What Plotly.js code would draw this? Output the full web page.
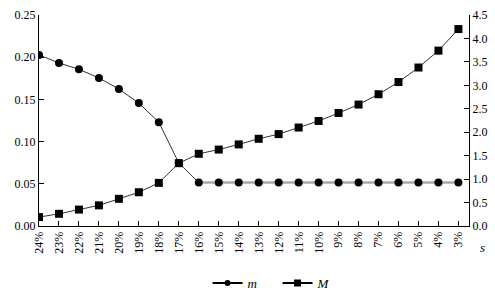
<!DOCTYPE html>
<html>
<head>
<meta charset="utf-8">
<script src="https://cdn.plot.ly/plotly-3.0.1.min.js"></script>
<style>html,body{margin:0;padding:0;background:#fff;}#chart{width:495px;height:294px;}</style>
</head>
<body>
<div id="chart"></div>
<script>
var categories = ["24%","23%","22%","21%","20%","19%","18%","17%","16%","15%","14%","13%","12%","11%","10%","9%","8%","7%","6%","5%","4%","3%"];
var mValues = [0.2027,0.1932,0.1857,0.1754,0.1623,0.1456,0.1230,0.0746,0.0515,0.0515,0.0515,0.0515,0.0516,0.0516,0.0515,0.0515,0.0515,0.0515,0.0515,0.0515,0.0515,0.0515];
var MValues = [0.19,0.26,0.35,0.44,0.58,0.72,0.92,1.34,1.54,1.63,1.74,1.86,1.96,2.10,2.24,2.41,2.59,2.81,3.07,3.38,3.74,4.20];
var leftTicks = [0,0.05,0.10,0.15,0.20,0.25];
var leftTickText = ["0.00","0.05","0.10","0.15","0.20","0.25"];
var rightTicks = [0,0.5,1,1.5,2,2.5,3,3.5,4,4.5];
var rightTickText = ["0.0","0.5","1.0","1.5","2.0","2.5","3.0","3.5","4.0","4.5"];

var flatStart = 8;
var font = {family: "'Liberation Serif', 'Times New Roman', serif", size: 12, color: "#000"};

var traces = [
  {x: categories.slice(0, flatStart + 1), y: mValues.slice(0, flatStart + 1), mode: "lines", line: {color: "#333", width: 1}, showlegend: false, hoverinfo: "skip"},
  {x: categories.slice(flatStart), y: mValues.slice(flatStart), mode: "lines", line: {color: "#a8a8a8", width: 2.5}, showlegend: false, hoverinfo: "skip"},
  {x: categories, y: mValues, mode: "markers", name: "<i>m</i>", marker: {symbol: "circle", size: 8, color: "#000"}, showlegend: false},
  {x: categories, y: MValues, yaxis: "y2", mode: "lines+markers", name: "<i>M</i>", line: {color: "#333", width: 1}, marker: {symbol: "square", size: 8, color: "#000"}, showlegend: false},
  {x: [null], y: [null], mode: "lines+markers", name: "<i>m</i>", line: {color: "#000", width: 2}, marker: {symbol: "circle", size: 6, color: "#000"}},
  {x: [null], y: [null], yaxis: "y2", mode: "lines+markers", name: "<i>M</i>", line: {color: "#000", width: 2}, marker: {symbol: "square", size: 7, color: "#000"}}
];

var layout = {
  width: 495, height: 294,
  margin: {l: 39, r: 26, t: 15, b: 68, autoexpand: false},
  paper_bgcolor: "#fff", plot_bgcolor: "#fff",
  font: font,
  showlegend: true,
  legend: {orientation: "h", x: 0.392, xanchor: "left", y: -0.27, yanchor: "middle", font: {family: font.family, size: 13, color: "#000"}, bgcolor: "rgba(0,0,0,0)", entrywidth: 25, entrywidthmode: "pixels", tracegroupgap: 0},
  xaxis: {
    type: "category", categoryorder: "array", categoryarray: categories,
    range: [0, 21.53], showgrid: false, zeroline: false,
    showline: true, linecolor: "#000", linewidth: 1, automargin: false,
    ticks: "inside", ticklen: 5, tickcolor: "#000", tickangle: -90,
    tickfont: font, fixedrange: true
  },
  yaxis: {
    range: [0, 0.25], tickvals: leftTicks, ticktext: leftTickText, automargin: false,
    showgrid: false, zeroline: false, showline: true, linecolor: "#000", linewidth: 1,
    ticks: "inside", ticklen: 5, tickcolor: "#000", tickfont: font
  },
  yaxis2: {
    range: [0, 4.5], tickvals: rightTicks, ticktext: rightTickText, automargin: false,
    overlaying: "y", side: "right",
    showgrid: false, zeroline: false, showline: true, linecolor: "#000", linewidth: 1,
    ticks: "inside", ticklen: 5, tickcolor: "#000", tickfont: font
  },
  annotations: [
    {text: "<i>s</i>", xref: "paper", yref: "paper", x: 1.02, y: -0.1, xanchor: "left", yanchor: "middle", showarrow: false, font: {family: font.family, size: 13, color: "#000"}}
  ]
};

Plotly.newPlot("chart", traces, layout, {displayModeBar: false, staticPlot: true});
</script>
</body>
</html>
